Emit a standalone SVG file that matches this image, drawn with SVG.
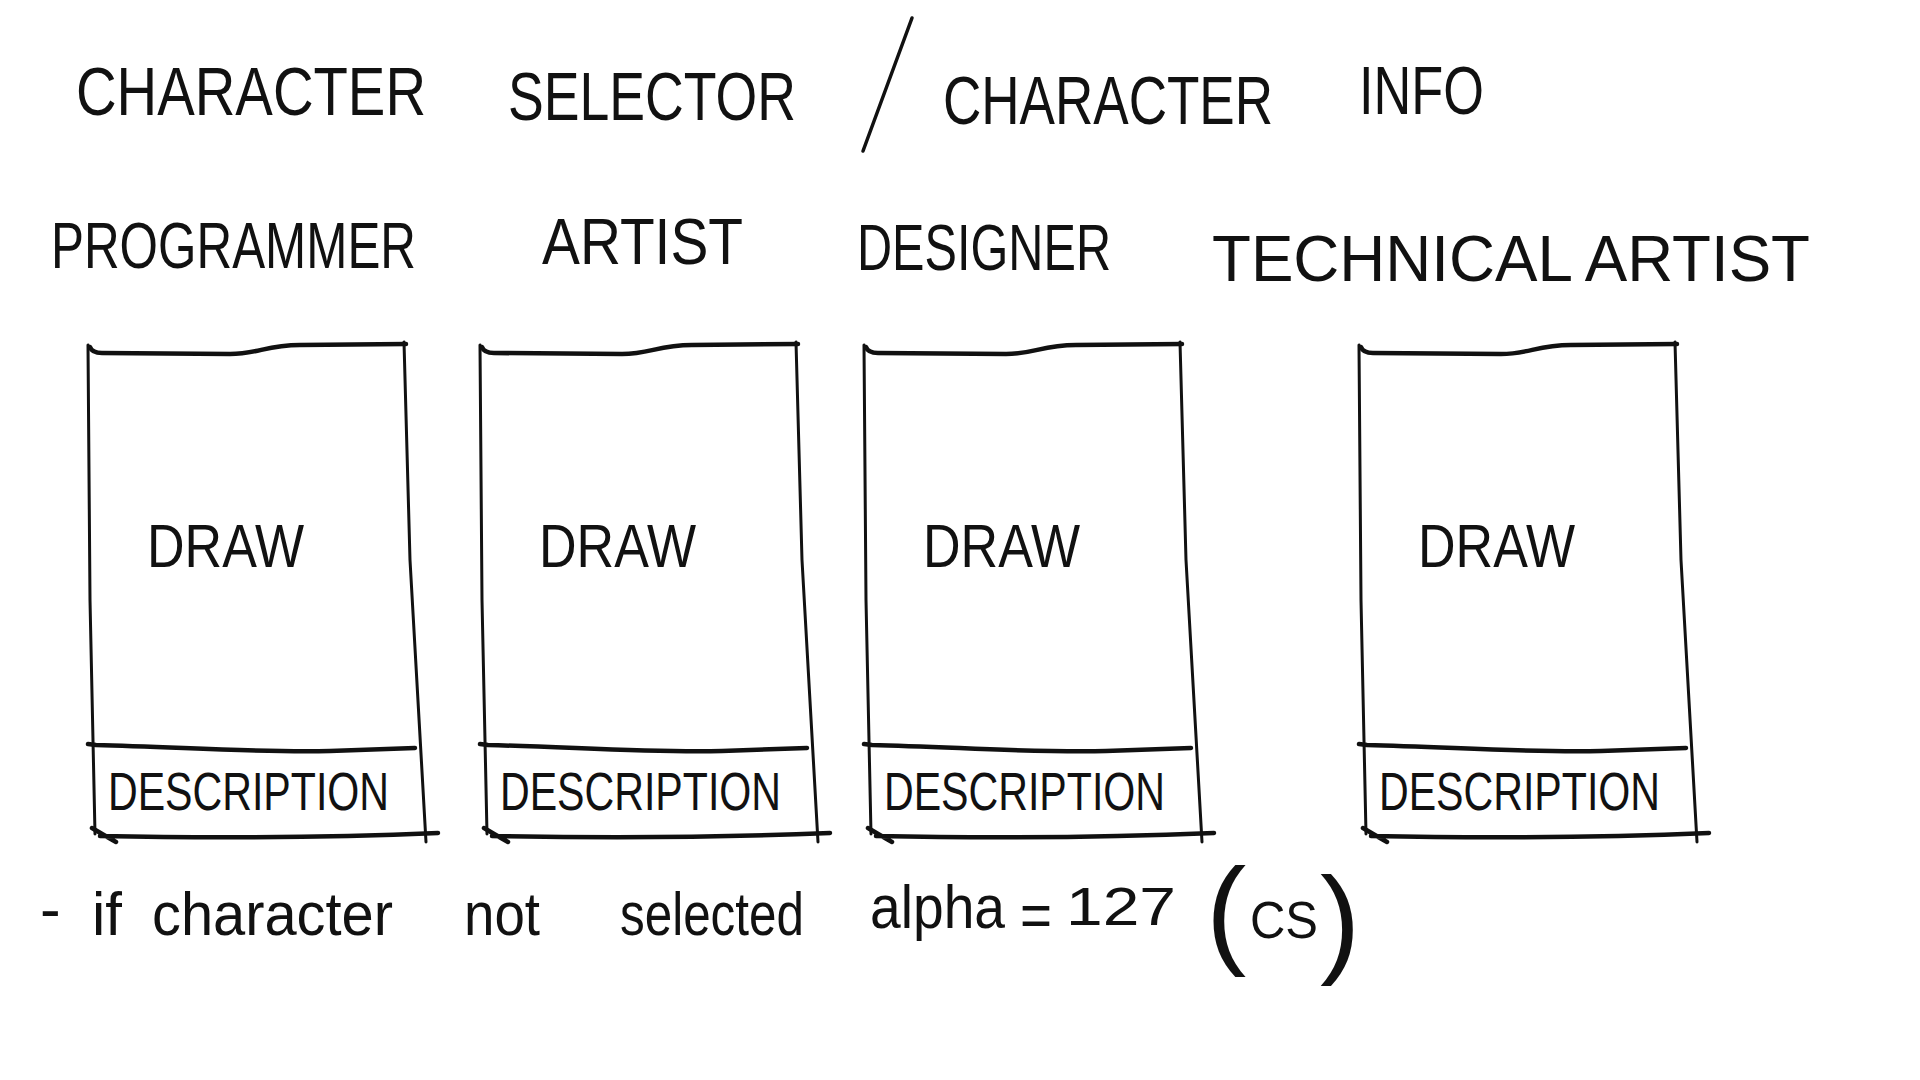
<svg xmlns="http://www.w3.org/2000/svg" width="1920" height="1080" viewBox="0 0 1920 1080">
  <style>
    .ink { fill: none; stroke: #111; stroke-linecap: round; stroke-linejoin: round; }
    .edge { stroke-width: 3; }
    .rule { stroke-width: 4.5; }
    text { font-family: "Liberation Sans", "DejaVu Sans", sans-serif; fill: #111; }
    .title { font-size: 68px; }
    .role { font-size: 64px; }
    .draw { font-size: 62px; }
    .desc { font-size: 54px; }
    .note { font-size: 62px; }
  </style>
  <defs>
    <!-- one hand-drawn card: picture area above, description strip below -->
    <g id="card">
      <path class="ink edge" d="M88 345 L90 600 L95 834"/>
      <path class="ink edge" d="M404 342 L410 560 L426 842"/>
      <path class="ink rule" d="M90 347 Q92 353 102 353 L230 354 C258 354 266 345 300 345 L406 344"/>
      <path class="ink rule" d="M88 744 L96 745 C180 747 260 753 330 751 L415 748"/>
      <path class="ink rule" d="M92 828 Q102 834 116 842 M100 836 C200 838 320 838 438 833"/>
    </g>
  </defs>

  <rect width="1920" height="1080" fill="#fff"/>

  <!-- heading -->
  <g id="heading">
    <text class="title" x="76" y="115" textLength="350" lengthAdjust="spacingAndGlyphs">CHARACTER</text>
    <text class="title" x="508" y="120" textLength="288" lengthAdjust="spacingAndGlyphs">SELECTOR</text>
    <line class="ink" stroke-width="3.5" x1="912" y1="18" x2="863" y2="151"/>
    <text class="title" x="943" y="124" textLength="330" lengthAdjust="spacingAndGlyphs">CHARACTER</text>
    <text class="title" x="1359" y="114" textLength="125" lengthAdjust="spacingAndGlyphs">INFO</text>
  </g>

  <!-- character cards -->
  <g id="card-programmer">
    <text class="role" x="51" y="268" textLength="365" lengthAdjust="spacingAndGlyphs">PROGRAMMER</text>
    <use href="#card"/>
    <text class="draw" x="147" y="567" textLength="157" lengthAdjust="spacingAndGlyphs">DRAW</text>
    <text class="desc" x="108" y="810" textLength="281" lengthAdjust="spacingAndGlyphs">DESCRIPTION</text>
  </g>

  <g id="card-artist">
    <text class="role" x="542" y="264" textLength="201" lengthAdjust="spacingAndGlyphs">ARTIST</text>
    <use href="#card" transform="translate(392 0)"/>
    <text class="draw" x="539" y="567" textLength="157" lengthAdjust="spacingAndGlyphs">DRAW</text>
    <text class="desc" x="500" y="810" textLength="281" lengthAdjust="spacingAndGlyphs">DESCRIPTION</text>
  </g>

  <g id="card-designer">
    <text class="role" x="857" y="270" textLength="254" lengthAdjust="spacingAndGlyphs">DESIGNER</text>
    <use href="#card" transform="translate(776 0)"/>
    <text class="draw" x="923" y="567" textLength="157" lengthAdjust="spacingAndGlyphs">DRAW</text>
    <text class="desc" x="884" y="810" textLength="281" lengthAdjust="spacingAndGlyphs">DESCRIPTION</text>
  </g>

  <g id="card-technical-artist">
    <text class="role" x="1212" y="281" textLength="598" lengthAdjust="spacingAndGlyphs">TECHNICAL ARTIST</text>
    <use href="#card" transform="translate(1271 0)"/>
    <text class="draw" x="1418" y="567" textLength="157" lengthAdjust="spacingAndGlyphs">DRAW</text>
    <text class="desc" x="1379" y="810" textLength="281" lengthAdjust="spacingAndGlyphs">DESCRIPTION</text>
  </g>

  <g id="connectors"/>

  <!-- rule note under the cards -->
  <g id="note">
    <text class="note" x="40" y="930">-</text>
    <text class="note" x="92" y="935" textLength="30" lengthAdjust="spacingAndGlyphs">if</text>
    <text class="note" x="152" y="935" textLength="241" lengthAdjust="spacingAndGlyphs">character</text>
    <text class="note" x="464" y="935" textLength="76" lengthAdjust="spacingAndGlyphs">not</text>
    <text class="note" x="620" y="935" textLength="184" lengthAdjust="spacingAndGlyphs">selected</text>
    <text class="note" x="870" y="928" textLength="135" lengthAdjust="spacingAndGlyphs">alpha</text>
    <text class="note" x="1020" y="936" textLength="32" lengthAdjust="spacingAndGlyphs">=</text>
    <text x="1066" y="925" font-size="54" textLength="110" lengthAdjust="spacingAndGlyphs">127</text>
    <text x="1206" y="952" font-size="121">(</text>
    <text x="1250" y="938" font-size="52" textLength="68" lengthAdjust="spacingAndGlyphs">CS</text>
    <text x="1320" y="961" font-size="121">)</text>
  </g>
</svg>
